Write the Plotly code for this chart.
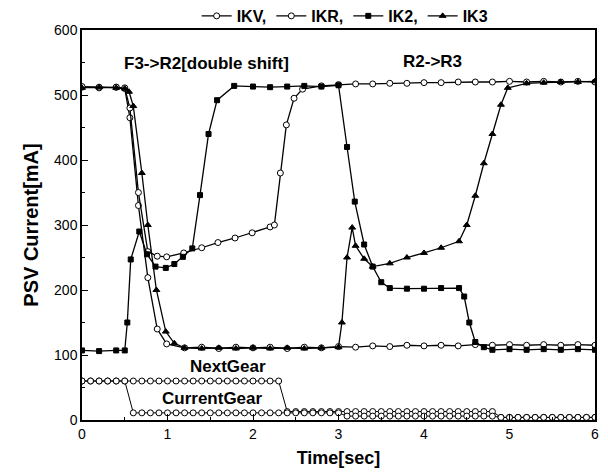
import plotly.graph_objects as go

# ---- data ----
ikv_t = [0.0, 0.2, 0.4, 0.5, 0.56, 0.66, 0.77, 0.88, 0.99, 1.2, 1.4, 1.6, 1.8, 2.0, 2.2, 2.4, 2.6, 2.8,
         3.0, 3.2, 3.4, 3.6, 3.8, 4.0, 4.2, 4.4, 4.6, 4.8, 5.0, 5.2, 5.4, 5.6, 5.8, 6.0]
ikv_v = [512, 511, 512, 510, 465, 330, 219, 140, 117, 111, 112, 110, 112, 111, 112, 110, 112, 111,
         113, 112, 114, 113, 115, 114, 115, 114, 116, 115, 116, 115, 116, 115, 116, 115]

ikr_t = [0.0, 0.2, 0.4, 0.5, 0.56, 0.66, 0.77, 0.88, 0.99, 1.19, 1.4, 1.59, 1.79, 1.99, 2.2, 2.25, 2.32,
         2.39, 2.48, 2.58, 2.8, 3.0, 3.2, 3.4, 3.6, 3.8, 4.0, 4.2, 4.4, 4.6, 4.8, 5.0, 5.2, 5.4, 5.6, 5.8, 6.0]
ikr_v = [513, 512, 512, 511, 480, 350, 259, 252, 251, 257, 265, 273, 280, 288, 297, 300, 380,
         454, 495, 509, 514, 516, 517, 517, 518, 518, 519, 519, 520, 520, 520, 521, 520, 521, 520, 521, 520]

ik2_t = [0.0, 0.2, 0.4, 0.5, 0.53, 0.57, 0.67, 0.76, 0.86, 0.98, 1.08, 1.18, 1.29, 1.38, 1.48, 1.58, 1.78,
         2.0, 2.2, 2.4, 2.6, 2.8, 3.0, 3.1, 3.19, 3.3, 3.4, 3.5, 3.6, 3.8, 4.0, 4.2, 4.41, 4.47, 4.53,
         4.6, 4.7, 4.8, 5.0, 5.2, 5.4, 5.6, 5.8, 6.0]
ik2_v = [107, 106, 107, 107, 150, 247, 290, 255, 236, 234, 240, 251, 264, 346, 440, 492, 514,
         513, 512, 513, 514, 513, 515, 420, 336, 270, 236, 212, 203, 202, 202, 203, 203, 190, 150,
         120, 112, 108, 109, 108, 109, 108, 109, 108]

ik3_t = [0.0, 0.2, 0.4, 0.5, 0.55, 0.6, 0.7, 0.77, 0.87, 0.98, 1.08, 1.2, 1.4, 1.6, 1.8, 2.0, 2.2, 2.4,
         2.6, 2.8, 3.0, 3.04, 3.1, 3.16, 3.2, 3.3, 3.4, 3.6, 3.8, 4.0, 4.2, 4.41, 4.5, 4.6, 4.7, 4.8,
         4.9, 4.98, 5.2, 5.4, 5.6, 5.8, 6.0]
ik3_v = [511, 512, 511, 510, 505, 483, 380, 300, 200, 136, 118, 111, 110, 111, 110, 111, 110, 111,
         110, 111, 112, 150, 250, 296, 268, 248, 236, 241, 250, 257, 265, 275, 300, 345, 395, 440,
         485, 511, 518, 519, 520, 520, 521]

next_t = [round(0.1 * i, 1) for i in range(0, 61)]
next_v = [60] * 24 + [13] * 25 + [4] * 12

cur_t = [round(0.1 * i, 1) for i in range(0, 61)]
cur_v = [60] * 6 + [11] * 25 + [6] * 18 + [4] * 12

tick_x = [0, 1, 2, 3, 4, 5, 6]
tick_y = [0, 100, 200, 300, 400, 500, 600]

FONT = "Liberation Sans, Arial, sans-serif"

fig = go.Figure()


def add(t, v, name, symbol, fill, size=6, legend=True, width=1.3):
    fig.add_trace(go.Scatter(
        x=t, y=v, name=name, mode="lines+markers", showlegend=legend,
        line=dict(color="black", width=width),
        marker=dict(symbol=symbol, size=size, color=fill, line=dict(color="black", width=1)),
    ))


add(ikv_t, ikv_v, "IKV,", "circle", "white")
add(ikr_t, ikr_v, "IKR,", "circle", "white")
add(ik2_t, ik2_v, "IK2,", "square", "black", size=5)
add(ik3_t, ik3_v, "IK3", "triangle-up", "black", size=6)
add(next_t, next_v, "NextGear", "circle", "white", size=6, legend=False, width=1)
add(cur_t, cur_v, "CurrentGear", "circle", "white", size=6, legend=False, width=1)

ann_font = dict(family=FONT, size=17, color="black")
for txt, x, y in [("<b>F3->R2[double shift]</b>", 1.46, 549), ("<b>R2->R3</b>", 4.1, 552),
                  ("<b>NextGear</b>", 1.71, 83), ("<b>CurrentGear</b>", 1.53, 33)]:
    fig.add_annotation(x=x, y=y, text=txt, showarrow=False, font=ann_font, xanchor="center", yanchor="middle")

# the page body adds an 8px offset, so the figure is 600x467 to fill the 608x475 window
fig.update_layout(
    width=600, height=467,
    margin=dict(l=74, r=13, t=22, b=55, autoexpand=False),
    paper_bgcolor="white", plot_bgcolor="white",
    font=dict(family=FONT, size=14, color="black"),
    legend=dict(orientation="h", x=0.512, y=1.036, yanchor="middle", xanchor="center",
                font=dict(family=FONT, size=16, color="black", weight="bold"),
                bgcolor="rgba(0,0,0,0)", itemwidth=30, tracegroupgap=0),
    showlegend=True,
)
fig.update_xaxes(
    range=[0, 6], tickvals=tick_x, ticks="inside", ticklen=6, tickcolor="black",
    showline=True, linecolor="black", linewidth=1.5, mirror=True, showgrid=False, zeroline=False,
    minor=dict(dtick=0.5, ticks="inside", ticklen=3, tickcolor="black"),
    title=dict(text="<b>Time[sec]</b>", font=dict(family=FONT, size=18), standoff=11),
    tickfont=dict(family=FONT, size=14),
)
fig.update_yaxes(
    range=[0, 600], tickvals=tick_y, ticks="inside", ticklen=6, tickcolor="black",
    showline=True, linecolor="black", linewidth=1.5, mirror=True, showgrid=False, zeroline=False,
    minor=dict(dtick=50, ticks="inside", ticklen=3, tickcolor="black"),
    title=dict(text="<b>PSV Current[mA]</b>", font=dict(family=FONT, size=20), standoff=10),
    tickfont=dict(family=FONT, size=14),
)

fig.write_html("out.html")
